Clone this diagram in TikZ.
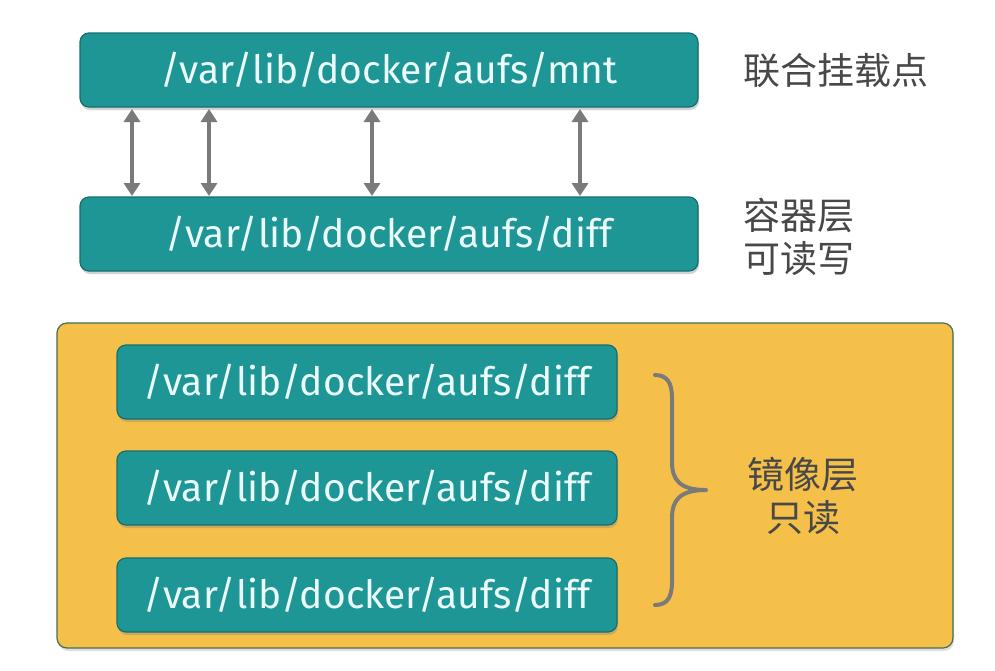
\documentclass[tikz,border=0pt]{standalone}
\usepackage{fontspec}
\setmainfont{Fira Sans}
\newfontfamily\cjk{Noto Sans CJK SC}
\usetikzlibrary{shadows,arrows.meta}
\definecolor{teal1}{RGB}{30,150,150}
\definecolor{tealb}{RGB}{24,110,108}
\definecolor{yel}{RGB}{245,192,74}
\definecolor{yelb}{RGB}{70,110,80}
\definecolor{arr}{RGB}{122,122,122}
\definecolor{lbl}{RGB}{72,72,72}
\definecolor{txtw}{RGB}{235,250,250}
\tikzset{
  pathbox/.style={draw=tealb, line width=1.2pt, fill=teal1, rounded corners=9pt,
    text=txtw, font=\fontsize{39}{42}\selectfont, inner sep=0pt,
    drop shadow={shadow xshift=1pt, shadow yshift=-3pt, opacity=0.35}},
  link/.style={draw=arr, line width=4pt, {Triangle[length=13pt,width=16pt]}-{Triangle[length=13pt,width=16pt]}},
  zh/.style={font=\cjk\fontsize{37}{43}\selectfont, text=lbl, align=left, inner sep=0pt}
}
\begin{document}
\begin{tikzpicture}[x=1pt,y=-1pt]
\useasboundingbox (0,0) rectangle (995,670);
\fill[white] (0,0) rectangle (995,670);
% top boxes
\node[pathbox, minimum width=618pt, minimum height=74pt] (mnt) at (389,70) {/var/lib/docker/aufs/mnt};
\node[pathbox, minimum width=618pt, minimum height=74pt] (cdiff) at (389,234) {/var/lib/docker/aufs/diff};
% arrows
\foreach \xx in {132,209,372,580}{
  \coordinate (a\xx) at (\xx,109);
  \coordinate (b\xx) at (\xx,196);
  \draw[link] (a\xx) -- (b\xx);
}
% labels
\node[zh, anchor=west] (l1) at (743,71) {联合挂载点};
\node[zh, anchor=west, align=left] (l2) at (743,237) {容器层\\可读写};
% image layer
\node[draw=yelb, line width=1.2pt, fill=yel, rounded corners=10pt, minimum width=896pt, minimum height=325pt,
  drop shadow={shadow xshift=1pt, shadow yshift=-3pt, opacity=0.25}] (img) at (505,485.5) {};
\node[pathbox, minimum width=500pt, minimum height=74pt] (d1) at (367,382) {/var/lib/docker/aufs/diff};
\node[pathbox, minimum width=500pt, minimum height=74pt] (d2) at (367,488) {/var/lib/docker/aufs/diff};
\node[pathbox, minimum width=500pt, minimum height=74pt] (d3) at (367,595) {/var/lib/docker/aufs/diff};
% brace
\coordinate (bt) at (655,375);
\coordinate (bm) at (706,490);
\coordinate (bb) at (655,605);
\draw[arr, line width=4pt, line cap=round]
  (bt) .. controls (668,375) and (672,384) .. (672,398)
  -- (672,462) .. controls (672,480) and (680,490) .. (bm)
  (bm) .. controls (680,490) and (672,500) .. (672,518)
  -- (672,582) .. controls (672,596) and (668,605) .. (bb);
\node[zh, align=center] (l3) at (803,496) {镜像层\\只读};
\end{tikzpicture}
\end{document}
